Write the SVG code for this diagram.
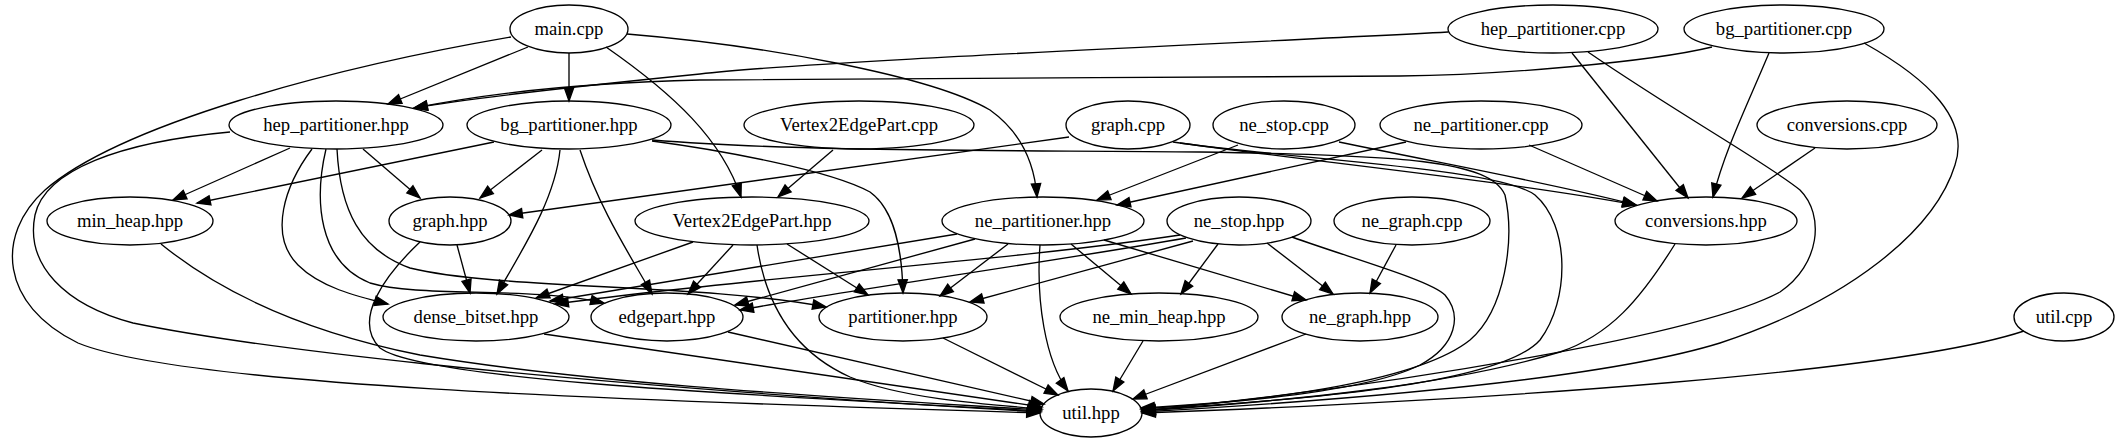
<svg xmlns="http://www.w3.org/2000/svg" width="2119" height="443" viewBox="0 0 2119 443">
<style>
.n ellipse{fill:none;stroke:#000;stroke-width:1.33}
#edges path{fill:none;stroke:#000;stroke-width:1.33;marker-end:url(#arr)}
</style>
<defs>
<marker id="arr" markerUnits="userSpaceOnUse" markerWidth="16" markerHeight="12" refX="13.3" refY="5.2" orient="auto" overflow="visible">
<path d="M0,0.5 L13.3,5.2 L0,9.9 Z" fill="#000" stroke="#000" stroke-width="1.33"/>
</marker>
</defs>
<rect width="2119" height="443" fill="#fff"/>
<g id="edges">
<path d="M528,47 L388,104"/>
<path d="M569,53 L569,101"/>
<path d="M606,47 C675,95 722,140 741,197"/>
<path d="M627,34 C760,45 930,75 990,110 C1025,135 1035,170 1037,197"/>
<path d="M511,37 C330,68 120,125 45,190 C-5,235 0,305 78,343 C180,385 600,400 1040,413"/>
<path d="M1448,32 C1200,45 800,62 700,74 C560,88 470,98 414,108"/>
<path d="M1572,53 L1688,198"/>
<path d="M1588,52 C1680,115 1770,165 1800,190 C1825,215 1820,265 1780,292 C1700,335 1400,385 1142,411"/>
<path d="M1712,47 C1650,62 1500,75 1400,76 C1200,78 800,78 700,80 C560,83 470,97 414,108"/>
<path d="M1769,53 C1745,110 1725,150 1713,197"/>
<path d="M1864,43 C1930,80 1970,120 1955,165 C1935,230 1850,300 1720,343 C1600,380 1350,400 1142,412"/>
<path d="M1815,148 L1742,198"/>
<path d="M290,148 L173,200"/>
<path d="M363,149 L420,198"/>
<path d="M312,149 C285,185 268,235 298,265 C320,287 355,296 388,304"/>
<path d="M326,149 C314,200 318,262 370,283 C420,298 530,286 604,303"/>
<path d="M337,149 C340,210 360,250 410,268 C500,290 700,283 826,307"/>
<path d="M230,132 C120,142 45,170 35,215 C25,265 65,305 133,323 C240,345 500,380 1041,412"/>
<path d="M494,142 L197,203"/>
<path d="M542,150 L480,198"/>
<path d="M560,150 C555,200 522,250 497,294"/>
<path d="M580,150 C600,210 630,255 652,294"/>
<path d="M652,141 C720,150 830,170 870,192 C895,210 902,250 903,293"/>
<path d="M652,140 C800,152 1000,150 1200,152 C1400,155 1490,160 1505,195 C1515,240 1505,310 1470,340 C1420,380 1280,400 1141,409"/>
<path d="M833,150 L778,197"/>
<path d="M1069,137 L509,215"/>
<path d="M1173,142 C1300,160 1500,180 1636,205"/>
<path d="M1180,143 C1300,160 1500,168 1535,195 C1570,225 1570,300 1540,340 C1500,385 1300,400 1142,410"/>
<path d="M1238,145 L1097,200"/>
<path d="M1339,142 C1450,165 1560,185 1636,205"/>
<path d="M1406,142 L1117,205"/>
<path d="M1529,145 L1657,201"/>
<path d="M161,244 C230,300 320,335 420,355 C600,385 850,398 1041,410"/>
<path d="M457,245 L470,293"/>
<path d="M420,242 C385,275 352,320 380,348 C420,378 700,393 1041,411"/>
<path d="M693,242 L536,298"/>
<path d="M733,245 L688,294"/>
<path d="M787,244 L868,295"/>
<path d="M757,245 C765,300 790,350 850,377 C900,398 980,404 1042,409"/>
<path d="M957,234 L550,301"/>
<path d="M975,239 L735,305"/>
<path d="M1008,244 L940,296"/>
<path d="M1071,244 L1131,294"/>
<path d="M1104,240 L1306,300"/>
<path d="M1040,245 C1036,300 1045,360 1068,391"/>
<path d="M1180,235 C1000,262 760,276 555,304"/>
<path d="M1186,238 C1050,262 850,290 740,310"/>
<path d="M1193,241 L970,302"/>
<path d="M1218,244 L1181,294"/>
<path d="M1267,243 L1333,294"/>
<path d="M1292,237 C1350,258 1430,280 1445,295 C1462,315 1457,345 1420,365 C1370,390 1250,402 1141,408"/>
<path d="M1396,245 L1370,293"/>
<path d="M1675,244 C1640,300 1610,335 1560,352 C1450,385 1300,400 1142,411"/>
<path d="M544,334 L1042,407"/>
<path d="M728,332 L1044,404"/>
<path d="M943,338 L1058,395"/>
<path d="M1143,341 L1113,391"/>
<path d="M1306,334 L1133,399"/>
<path d="M2024,331 C1900,372 1500,400 1142,413"/>
</g>
<g id="nodes" font-family="Liberation Serif, Times New Roman, serif" font-size="18.67" text-anchor="middle" fill="#000">
<g id="main_cpp" class="n"><ellipse cx="569" cy="29" rx="59" ry="24"/><text x="569" y="35">main.cpp</text></g>
<g id="hep_partitioner_cpp" class="n"><ellipse cx="1553" cy="29" rx="105" ry="24"/><text x="1553" y="35">hep_partitioner.cpp</text></g>
<g id="bg_partitioner_cpp" class="n"><ellipse cx="1784" cy="29" rx="100" ry="24"/><text x="1784" y="35">bg_partitioner.cpp</text></g>
<g id="hep_partitioner_hpp" class="n"><ellipse cx="336" cy="125" rx="107" ry="24"/><text x="336" y="131">hep_partitioner.hpp</text></g>
<g id="bg_partitioner_hpp" class="n"><ellipse cx="569" cy="125" rx="102" ry="24"/><text x="569" y="131">bg_partitioner.hpp</text></g>
<g id="Vertex2EdgePart_cpp" class="n"><ellipse cx="859" cy="125" rx="115" ry="24"/><text x="859" y="131">Vertex2EdgePart.cpp</text></g>
<g id="graph_cpp" class="n"><ellipse cx="1128" cy="125" rx="62" ry="24"/><text x="1128" y="131">graph.cpp</text></g>
<g id="ne_stop_cpp" class="n"><ellipse cx="1284" cy="125" rx="71" ry="24"/><text x="1284" y="131">ne_stop.cpp</text></g>
<g id="ne_partitioner_cpp" class="n"><ellipse cx="1481" cy="125" rx="101" ry="24"/><text x="1481" y="131">ne_partitioner.cpp</text></g>
<g id="conversions_cpp" class="n"><ellipse cx="1847" cy="125" rx="90" ry="24"/><text x="1847" y="131">conversions.cpp</text></g>
<g id="min_heap_hpp" class="n"><ellipse cx="130" cy="221" rx="83" ry="24"/><text x="130" y="227">min_heap.hpp</text></g>
<g id="graph_hpp" class="n"><ellipse cx="450" cy="221" rx="61" ry="24"/><text x="450" y="227">graph.hpp</text></g>
<g id="Vertex2EdgePart_hpp" class="n"><ellipse cx="752" cy="221" rx="117" ry="24"/><text x="752" y="227">Vertex2EdgePart.hpp</text></g>
<g id="ne_partitioner_hpp" class="n"><ellipse cx="1043" cy="221" rx="101" ry="24"/><text x="1043" y="227">ne_partitioner.hpp</text></g>
<g id="ne_stop_hpp" class="n"><ellipse cx="1239" cy="221" rx="72" ry="24"/><text x="1239" y="227">ne_stop.hpp</text></g>
<g id="ne_graph_cpp" class="n"><ellipse cx="1412" cy="221" rx="78" ry="24"/><text x="1412" y="227">ne_graph.cpp</text></g>
<g id="conversions_hpp" class="n"><ellipse cx="1706" cy="221" rx="91" ry="24"/><text x="1706" y="227">conversions.hpp</text></g>
<g id="dense_bitset_hpp" class="n"><ellipse cx="476" cy="317" rx="93" ry="24"/><text x="476" y="323">dense_bitset.hpp</text></g>
<g id="edgepart_hpp" class="n"><ellipse cx="667" cy="317" rx="76" ry="24"/><text x="667" y="323">edgepart.hpp</text></g>
<g id="partitioner_hpp" class="n"><ellipse cx="903" cy="317" rx="84" ry="24"/><text x="903" y="323">partitioner.hpp</text></g>
<g id="ne_min_heap_hpp" class="n"><ellipse cx="1159" cy="317" rx="99" ry="24"/><text x="1159" y="323">ne_min_heap.hpp</text></g>
<g id="ne_graph_hpp" class="n"><ellipse cx="1360" cy="317" rx="78" ry="24"/><text x="1360" y="323">ne_graph.hpp</text></g>
<g id="util_cpp" class="n"><ellipse cx="2064" cy="317" rx="50" ry="24"/><text x="2064" y="323">util.cpp</text></g>
<g id="util_hpp" class="n"><ellipse cx="1091" cy="413" rx="51" ry="24"/><text x="1091" y="419">util.hpp</text></g>
</g>
</svg>
